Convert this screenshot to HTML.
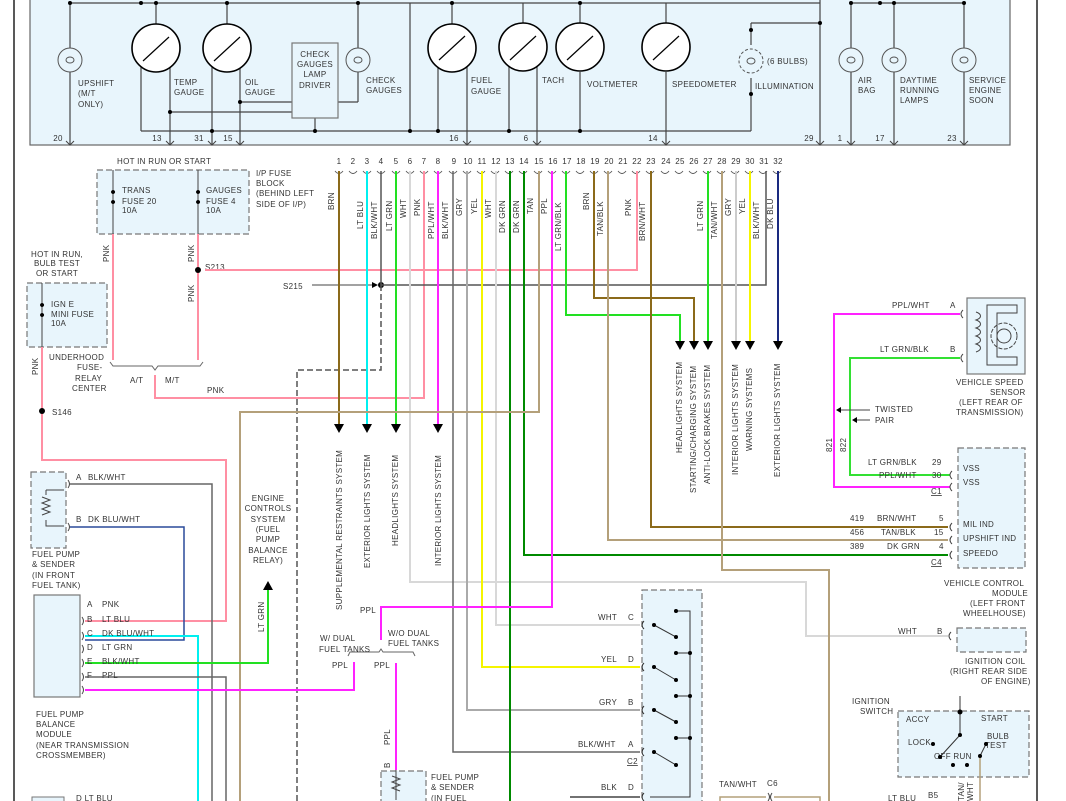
<!DOCTYPE html>
<html><head><meta charset="utf-8"><style>
html,body{margin:0;padding:0;background:#fff;}
svg{display:block;font-family:"Liberation Sans",sans-serif;}
text{font-size:8px;fill:#333;letter-spacing:0.3px}
</style></head><body>
<svg width="1066" height="801" viewBox="0 0 1066 801" xmlns="http://www.w3.org/2000/svg">
<defs>
<marker id="ar" viewBox="0 0 10 10" refX="5" refY="10" markerWidth="9" markerHeight="9" orient="auto-start-reverse"><path d="M0,0 L10,0 L5,10z" fill="#000"/></marker>
</defs>
<!-- border lines -->
<line x1="14" y1="0" x2="14" y2="801" stroke="#222" stroke-width="1.5"/>
<line x1="1037" y1="0" x2="1037" y2="801" stroke="#222" stroke-width="1.5"/>
<!-- top panel -->
<rect x="30" y="-2" width="980" height="147" fill="#e8f5fc" stroke="#666" stroke-width="1.2"/>
<g stroke="#444" stroke-width="1.2" fill="none">
<line x1="70" y1="3" x2="820" y2="3"/><line x1="850" y1="3" x2="964" y2="3"/>
<line x1="70" y1="3" x2="70" y2="48"/><line x1="70" y1="72" x2="70" y2="145"/>
<line x1="156" y1="3" x2="156" y2="24"/><line x1="227" y1="3" x2="227" y2="24"/>
<line x1="141" y1="62" x2="141" y2="131"/><line x1="170" y1="62" x2="170" y2="145"/>
<line x1="212" y1="62" x2="212" y2="145"/><line x1="240" y1="62" x2="240" y2="145"/>
<line x1="170" y1="112" x2="292" y2="112"/><line x1="240" y1="102" x2="292" y2="102"/>
<line x1="141" y1="131" x2="222" y2="131"/>
<line x1="222" y1="131" x2="751" y2="131"/>
<line x1="315" y1="118" x2="315" y2="131"/>
<line x1="358" y1="3" x2="358" y2="48"/><line x1="358" y1="72" x2="358" y2="102"/><line x1="338" y1="102" x2="358" y2="102"/>
<line x1="410" y1="3" x2="410" y2="131"/>
<line x1="452" y1="3" x2="452" y2="24"/><line x1="438" y1="62" x2="438" y2="131"/><line x1="467" y1="62" x2="467" y2="145"/>
<line x1="523" y1="3" x2="523" y2="24"/><line x1="509" y1="62" x2="509" y2="131"/><line x1="537" y1="62" x2="537" y2="145"/>
<line x1="580" y1="3" x2="580" y2="24"/><line x1="580" y1="72" x2="580" y2="131"/>
<line x1="666" y1="3" x2="666" y2="24"/><line x1="666" y1="72" x2="666" y2="145"/>
<line x1="751" y1="23" x2="820" y2="23"/><line x1="751" y1="23" x2="751" y2="45"/><line x1="751" y1="78" x2="751" y2="131"/>
<line x1="820" y1="0" x2="820" y2="145"/>
<line x1="851" y1="3" x2="851" y2="48"/><line x1="851" y1="72" x2="851" y2="145"/>
<line x1="894" y1="3" x2="894" y2="48"/><line x1="894" y1="72" x2="894" y2="145"/>
<line x1="964" y1="3" x2="964" y2="48"/><line x1="964" y1="72" x2="964" y2="145"/>
</g>
<g fill="#000">
<circle cx="70" cy="3" r="2"/><circle cx="141" cy="3" r="2"/><circle cx="156" cy="3" r="2"/><circle cx="227" cy="3" r="2"/><circle cx="358" cy="3" r="2"/><circle cx="452" cy="3" r="2"/><circle cx="580" cy="3" r="2"/>
<circle cx="170" cy="112" r="2"/><circle cx="240" cy="102" r="2"/><circle cx="212" cy="131" r="2"/><circle cx="315" cy="131" r="2"/><circle cx="410" cy="131" r="2"/><circle cx="438" cy="131" r="2"/><circle cx="509" cy="131" r="2"/><circle cx="580" cy="131" r="2"/>
<circle cx="820" cy="23" r="2"/><circle cx="751" cy="30" r="2"/><circle cx="751" cy="94" r="2"/><circle cx="851" cy="3" r="2"/><circle cx="880" cy="3" r="2"/><circle cx="894" cy="3" r="2"/><circle cx="964" cy="3" r="2"/>
</g>
<g fill="#fff" stroke="#000" stroke-width="1.6">
<circle cx="156" cy="48" r="24"/><circle cx="227" cy="48" r="24"/><circle cx="452" cy="48" r="24"/><circle cx="523" cy="47" r="24"/><circle cx="580" cy="47" r="24"/><circle cx="666" cy="47" r="24"/>
</g>
<g stroke="#000" stroke-width="1.2">
<line x1="143" y1="61" x2="169" y2="37"/><line x1="214" y1="61" x2="240" y2="37"/><line x1="439" y1="60" x2="465" y2="36"/><line x1="510" y1="60" x2="536" y2="36"/><line x1="567" y1="60" x2="593" y2="36"/><line x1="653" y1="60" x2="679" y2="36"/>
</g>
<g fill="none" stroke="#555" stroke-width="1">
<circle cx="70" cy="60" r="12"/><circle cx="358" cy="60" r="12"/><circle cx="751" cy="61" r="12" stroke-dasharray="3,2"/><circle cx="851" cy="60" r="12"/><circle cx="894" cy="60" r="12"/><circle cx="964" cy="60" r="12"/>
<ellipse cx="70" cy="60" rx="4" ry="3"/><ellipse cx="358" cy="60" rx="4" ry="3"/><ellipse cx="751" cy="61" rx="4" ry="3"/><ellipse cx="851" cy="60" rx="4" ry="3"/><ellipse cx="894" cy="60" rx="4" ry="3"/><ellipse cx="964" cy="60" rx="4" ry="3"/>
</g>
<rect x="292" y="43" width="46" height="75" fill="#e8f5fc" stroke="#777" stroke-width="1.2"/>
<text x="315" y="57" text-anchor="middle">CHECK</text><text x="315" y="67" text-anchor="middle">GAUGES</text><text x="315" y="77" text-anchor="middle">LAMP</text><text x="315" y="88" text-anchor="middle">DRIVER</text>
<text x="78" y="86">UPSHIFT</text><text x="78" y="96">(M/T</text><text x="78" y="107">ONLY)</text>
<text x="174" y="85">TEMP</text><text x="174" y="95">GAUGE</text><text x="245" y="85">OIL</text><text x="245" y="95">GAUGE</text>
<text x="366" y="83">CHECK</text><text x="366" y="93">GAUGES</text>
<text x="471" y="83">FUEL</text><text x="471" y="94">GAUGE</text>
<text x="542" y="83">TACH</text><text x="587" y="87">VOLTMETER</text><text x="672" y="87">SPEEDOMETER</text>
<text x="767" y="64">(6 BULBS)</text><text x="755" y="89">ILLUMINATION</text>
<text x="858" y="83">AIR</text><text x="858" y="93">BAG</text>
<text x="900" y="83">DAYTIME</text><text x="900" y="93">RUNNING</text><text x="900" y="103">LAMPS</text>
<text x="969" y="83">SERVICE</text><text x="969" y="93">ENGINE</text><text x="969" y="103">SOON</text>
<g text-anchor="middle"><text x="58" y="141">20</text><text x="157" y="141">13</text><text x="199" y="141">31</text><text x="228" y="141">15</text><text x="454" y="141">16</text><text x="526" y="141">6</text><text x="653" y="141">14</text><text x="809" y="141">29</text><text x="840" y="141">1</text><text x="880" y="141">17</text><text x="952" y="141">23</text></g>
<g stroke="#444" fill="none"><path d="M66,141 l4,4 l4,-4M166,141 l4,4 l4,-4M208,141 l4,4 l4,-4M236,141 l4,4 l4,-4M463,141 l4,4 l4,-4M533,141 l4,4 l4,-4M662,141 l4,4 l4,-4M816,141 l4,4 l4,-4M847,141 l4,4 l4,-4M890,141 l4,4 l4,-4M960,141 l4,4 l4,-4"/></g>

<!-- connector numbers -->
<g text-anchor="middle">
<text x="339" y="164">1</text><text x="353" y="164">2</text><text x="367" y="164">3</text><text x="381" y="164">4</text><text x="396" y="164">5</text><text x="410" y="164">6</text><text x="424" y="164">7</text><text x="438" y="164">8</text><text x="454" y="164">9</text><text x="468" y="164">10</text><text x="482" y="164">11</text><text x="496" y="164">12</text><text x="510" y="164">13</text><text x="524" y="164">14</text><text x="539" y="164">15</text><text x="553" y="164">16</text><text x="567" y="164">17</text><text x="581" y="164">18</text><text x="595" y="164">19</text><text x="609" y="164">20</text><text x="623" y="164">21</text><text x="637" y="164">22</text><text x="651" y="164">23</text><text x="666" y="164">24</text><text x="680" y="164">25</text><text x="694" y="164">26</text><text x="708" y="164">27</text><text x="722" y="164">28</text><text x="736" y="164">29</text><text x="750" y="164">30</text><text x="764" y="164">31</text><text x="778" y="164">32</text>
</g>
<g fill="none" stroke="#555" stroke-width="0.9">
<path d="M335,171 q4,5 8,0M349,171 q4,5 8,0M363,171 q4,5 8,0M377,171 q4,5 8,0M392,171 q4,5 8,0M406,171 q4,5 8,0M420,171 q4,5 8,0M434,171 q4,5 8,0M449,171 q4,5 8,0M463,171 q4,5 8,0M477,171 q4,5 8,0M491,171 q4,5 8,0M505,171 q4,5 8,0M519,171 q4,5 8,0M534,171 q4,5 8,0M548,171 q4,5 8,0M562,171 q4,5 8,0M576,171 q4,5 8,0M590,171 q4,5 8,0M604,171 q4,5 8,0M618,171 q4,5 8,0M632,171 q4,5 8,0M646,171 q4,5 8,0M661,171 q4,5 8,0M675,171 q4,5 8,0M689,171 q4,5 8,0M703,171 q4,5 8,0M717,171 q4,5 8,0M731,171 q4,5 8,0M745,171 q4,5 8,0M759,171 q4,5 8,0M773,171 q4,5 8,0"/>
</g>

<!-- dashed boxes -->
<g fill="#e8f5fc" stroke="#777" stroke-width="1.2" stroke-dasharray="6,3">
<rect x="97" y="170" width="152" height="64"/>
<rect x="27" y="283" width="80" height="64"/>
<rect x="31" y="472" width="35" height="76"/>
<rect x="958" y="448" width="67" height="120"/>
<rect x="957" y="628" width="69" height="24"/>
<rect x="898" y="711" width="131" height="66"/>
<rect x="642" y="590" width="60" height="215"/>
<rect x="381" y="771" width="45" height="35"/>
</g>
<rect x="34" y="595" width="46" height="102" fill="#e8f5fc" stroke="#777" stroke-width="1.2"/>
<rect x="32" y="797" width="32" height="10" fill="#e8f5fc" stroke="#777"/>
<rect x="967" y="298" width="58" height="76" fill="#e8f5fc" stroke="#777" stroke-width="1.2"/>
<path d="M1017,305 h-30 v60 h30 v-8 h-20 v-44 h20z" fill="none" stroke="#444"/>
<circle cx="1004" cy="336" r="13" fill="none" stroke="#444" stroke-dasharray="4,1.5"/><circle cx="1004" cy="336" r="7" fill="none" stroke="#444"/>
<path d="M976,312 c6,2 6,6 0,8 c6,2 6,6 0,8 c6,2 6,6 0,8 c6,2 6,6 0,8 c6,2 6,6 0,8" fill="none" stroke="#444"/>

<!-- fuse block texts -->
<text x="117" y="164">HOT IN RUN OR START</text>
<text x="256" y="176">I/P FUSE</text><text x="256" y="186">BLOCK</text><text x="256" y="196">(BEHIND LEFT</text><text x="256" y="207">SIDE OF I/P)</text>
<text x="122" y="193">TRANS</text><text x="122" y="204">FUSE 20</text><text x="122" y="213">10A</text>
<text x="206" y="193">GAUGES</text><text x="206" y="204">FUSE 4</text><text x="206" y="213">10A</text>
<text x="31" y="257">HOT IN RUN,</text><text x="34" y="266">BULB TEST</text><text x="36" y="276">OR START</text>
<text x="51" y="307">IGN E</text><text x="51" y="317">MINI FUSE</text><text x="51" y="326">10A</text>
<text x="49" y="360">UNDERHOOD</text><text x="77" y="370">FUSE-</text><text x="75" y="381">RELAY</text><text x="72" y="391">CENTER</text>
<text x="130" y="383">A/T</text><text x="165" y="383">M/T</text><text x="207" y="393">PNK</text>
<text x="205" y="270">S213</text><text x="283" y="289">S215</text><text x="52" y="415">S146</text>

<!-- fuse wires -->
<g fill="none" stroke-width="2">
<line x1="113" y1="170" x2="113" y2="234" stroke="#444" stroke-width="1"/>
<line x1="198" y1="170" x2="198" y2="234" stroke="#444" stroke-width="1"/>
<line x1="42" y1="283" x2="42" y2="347" stroke="#444" stroke-width="1"/>
<path d="M113,234 V360" stroke="#ff8fa3"/>
<path d="M198,234 V360" stroke="#ff8fa3" stroke-dasharray="30,0"/>
<path d="M42,347 V460 H226 V621 H85" stroke="#ff8fa3"/>
<path d="M205,270 H637 V171" stroke="#ff8fa3"/>
<path d="M155,375 V398 H424 V171" stroke="#ff8fa3"/>
</g>
<path d="M110,362 l3,4 h39 l3,4 l3,-4 h42 l3,-4" fill="none" stroke="#666"/>
<g fill="#000"><circle cx="198" cy="270" r="3"/><circle cx="42" cy="411" r="3"/><circle cx="381" cy="285" r="3"/>
<path d="M113,190 a2,2 0 1,0 0.1,0z M113,200 a2,2 0 1,0 .1,0z M198,190 a2,2 0 1,0 .1,0z M198,200 a2,2 0 1,0 .1,0z M42,303 a2,2 0 1,0 .1,0z M42,313 a2,2 0 1,0 .1,0z"/></g>
<g font-size="8" transform=""></g>
<text transform="translate(109,262) rotate(-90)">PNK</text>
<text transform="translate(194,262) rotate(-90)">PNK</text>
<text transform="translate(194,302) rotate(-90)">PNK</text>
<text transform="translate(38,375) rotate(-90)">PNK</text>

<!-- S215 -->
<line x1="312" y1="285" x2="376" y2="285" stroke="#444"/><path d="M372,282 l6,3 l-6,3z" fill="#000"/>
<path d="M381,285 H766 V171" fill="none" stroke="#555" stroke-width="1.5"/>
<path d="M381,285 V370 H297 V801" fill="none" stroke="#555" stroke-width="1.5" stroke-dasharray="6,3"/>

<!-- main wires -->
<g fill="none" stroke-width="2">
<path d="M339,171 V426" stroke="#8b6a1a"/>
<path d="M367,171 V426" stroke="#00f0f0"/>
<path d="M381,171 V285" stroke="#555" stroke-width="1.5"/>
<path d="M396,171 V426" stroke="#22e022"/>
<path d="M410,171 V582 H806 V636 H948" stroke="#d8d8d8"/>
<path d="M438,171 V426" stroke="#ff22ff"/>
<path d="M453,171 V752 H640" stroke="#666" stroke-width="1.5"/>
<path d="M467,171 V710 H640" stroke="#aaa"/>
<path d="M482,171 V667 H640" stroke="#f5f500"/>
<path d="M496,171 V625 H640" stroke="#d8d8d8"/>
<path d="M510,171 V801" stroke="#008a00"/>
<path d="M524,171 V555 H948" stroke="#008a00"/>
<path d="M539,171 V412 H240 V801" stroke="#b4a07a"/>
<path d="M552,171 V607 H381 V640" stroke="#ff22ff"/>
<path d="M566,171 V315 H680 V342" stroke="#22e022"/>
<path d="M594,171 V298 H694 V342" stroke="#8b6a1a"/>
<path d="M608,171 V540 H948" stroke="#b4a07a"/>
<path d="M651,171 V527 H948" stroke="#8b6a1a"/>
<path d="M708,171 V342" stroke="#22e022"/>
<path d="M722,171 V570 H829 V801" stroke="#b4a07a"/>
<path d="M736,171 V342" stroke="#ccc"/>
<path d="M750,171 V342" stroke="#f5f500"/>
<path d="M778,171 V342" stroke="#1a2a80"/>
</g>
<g fill="#000">
<path d="M334,424 h10 l-5,9z M362,424 h10 l-5,9z M391,424 h10 l-5,9z M433,424 h10 l-5,9z"/>
<path d="M675,341 h10 l-5,9z M689,341 h10 l-5,9z M703,341 h10 l-5,9z M731,341 h10 l-5,9z M745,341 h10 l-5,9z M773,341 h10 l-5,9z"/>
</g>
<!-- wire color labels vertical -->
<g>
<text transform="translate(334,210) rotate(-90)">BRN</text>
<text transform="translate(363,229) rotate(-90)">LT BLU</text>
<text transform="translate(377,239) rotate(-90)">BLK/WHT</text>
<text transform="translate(392,231) rotate(-90)">LT GRN</text>
<text transform="translate(406,218) rotate(-90)">WHT</text>
<text transform="translate(420,216) rotate(-90)">PNK</text>
<text transform="translate(434,239) rotate(-90)">PPL/WHT</text>
<text transform="translate(448,239) rotate(-90)">BLK/WHT</text>
<text transform="translate(462,216) rotate(-90)">GRY</text>
<text transform="translate(477,214) rotate(-90)">YEL</text>
<text transform="translate(491,218) rotate(-90)">WHT</text>
<text transform="translate(505,233) rotate(-90)">DK GRN</text>
<text transform="translate(519,233) rotate(-90)">DK GRN</text>
<text transform="translate(533,214) rotate(-90)">TAN</text>
<text transform="translate(547,214) rotate(-90)">PPL</text>
<text transform="translate(561,251) rotate(-90)">LT GRN/BLK</text>
<text transform="translate(589,210) rotate(-90)">BRN</text>
<text transform="translate(603,236) rotate(-90)">TAN/BLK</text>
<text transform="translate(631,216) rotate(-90)">PNK</text>
<text transform="translate(645,241) rotate(-90)">BRN/WHT</text>
<text transform="translate(703,231) rotate(-90)">LT GRN</text>
<text transform="translate(717,239) rotate(-90)">TAN/WHT</text>
<text transform="translate(731,216) rotate(-90)">GRY</text>
<text transform="translate(745,214) rotate(-90)">YEL</text>
<text transform="translate(759,239) rotate(-90)">BLK/WHT</text>
<text transform="translate(773,229) rotate(-90)">DK BLU</text>
</g>
<g>
<text transform="translate(342,610) rotate(-90)">SUPPLEMENTAL RESTRAINTS SYSTEM</text>
<text transform="translate(370,568) rotate(-90)">EXTERIOR LIGHTS SYSTEM</text>
<text transform="translate(398,546) rotate(-90)">HEADLIGHTS SYSTEM</text>
<text transform="translate(441,566) rotate(-90)">INTERIOR LIGHTS SYSTEM</text>
<text transform="translate(682,453) rotate(-90)">HEADLIGHTS SYSTEM</text>
<text transform="translate(696,493) rotate(-90)">STARTING/CHARGING SYSTEM</text>
<text transform="translate(710,484) rotate(-90)">ANTI-LOCK BRAKES SYSTEM</text>
<text transform="translate(738,475) rotate(-90)">INTERIOR LIGHTS SYSTEM</text>
<text transform="translate(752,451) rotate(-90)">WARNING SYSTEMS</text>
<text transform="translate(780,477) rotate(-90)">EXTERIOR LIGHTS SYSTEM</text>
</g>

<!-- VSS & VCM -->
<g fill="none" stroke-width="2">
<path d="M960,314 H834 V487 H950" stroke="#ff22ff"/>
<path d="M960,358 H850 V475 H950" stroke="#33e033"/>
</g>
<g fill="none" stroke="#444"><path d="M963,310 q-4,4 0,8 M963,354 q-4,4 0,8 M952,471 q-4,4 0,8 M952,483 q-4,4 0,8 M952,523 q-4,4 0,8 M952,536 q-4,4 0,8 M952,551 q-4,4 0,8 M951,632 q-4,4 0,8"/>
<line x1="840" y1="410" x2="870" y2="410"/><line x1="855" y1="420" x2="870" y2="420"/></g>
<path d="M836,410 l5,-3 v6z M852,420 l5,-3 v6z" fill="#000"/>
<text x="892" y="308">PPL/WHT</text><text x="950" y="308">A</text>
<text x="880" y="352">LT GRN/BLK</text><text x="950" y="352">B</text>
<text x="956" y="385">VEHICLE SPEED</text><text x="990" y="395">SENSOR</text><text x="959" y="405">(LEFT REAR OF</text><text x="956" y="415">TRANSMISSION)</text>
<text x="875" y="412">TWISTED</text><text x="875" y="423">PAIR</text>
<text transform="translate(832,452) rotate(-90)">821</text><text transform="translate(846,452) rotate(-90)">822</text>
<text x="868" y="465">LT GRN/BLK</text><text x="932" y="465">29</text>
<text x="879" y="478">PPL/WHT</text><text x="932" y="478">30</text>
<text x="931" y="494" text-decoration="underline">C1</text>
<text x="963" y="471">VSS</text><text x="963" y="485">VSS</text>
<text x="850" y="521">419</text><text x="877" y="521">BRN/WHT</text><text x="939" y="521">5</text>
<text x="850" y="535">456</text><text x="881" y="535">TAN/BLK</text><text x="934" y="535">15</text>
<text x="850" y="549">389</text><text x="887" y="549">DK GRN</text><text x="939" y="549">4</text>
<text x="931" y="565" text-decoration="underline">C4</text>
<text x="963" y="527">MIL IND</text><text x="963" y="541">UPSHIFT IND</text><text x="963" y="556">SPEEDO</text>
<text x="944" y="586">VEHICLE CONTROL</text><text x="992" y="596">MODULE</text><text x="970" y="606">(LEFT FRONT</text><text x="963" y="616">WHEELHOUSE)</text>
<text x="898" y="634">WHT</text><text x="937" y="634">B</text>
<text x="965" y="664">IGNITION COIL</text><text x="950" y="674">(RIGHT REAR SIDE</text><text x="981" y="684">OF ENGINE)</text>
<text x="852" y="704">IGNITION</text><text x="860" y="714">SWITCH</text>
<text x="906" y="722" font-size="9">ACCY</text><text x="981" y="721" font-size="9">START</text>
<text x="908" y="745" font-size="9">LOCK</text><text x="987" y="739" font-size="9">BULB</text><text x="985" y="748" font-size="9">TEST</text>
<text x="934" y="759" font-size="9">OFF RUN</text>
<g stroke="#333" fill="none"><line x1="960" y1="696" x2="960" y2="735"/><line x1="940" y1="757" x2="960" y2="735"/><line x1="980" y1="756" x2="986" y2="744"/><line x1="980" y1="756" x2="980" y2="801" stroke="#b4a07a" stroke-width="1.5"/></g>
<g fill="#000"><circle cx="960" cy="712" r="2.5"/><circle cx="960" cy="735" r="2"/><circle cx="933" cy="744" r="2"/><circle cx="940" cy="757" r="2"/><circle cx="953" cy="765" r="2"/><circle cx="967" cy="765" r="2"/><circle cx="986" cy="744" r="2"/><circle cx="980" cy="756" r="2"/></g>
<text transform="translate(964,801) rotate(-90)">TAN/</text><text transform="translate(973,801) rotate(-90)">WHT</text>
<text x="888" y="801">LT BLU</text><text x="928" y="798">B5</text>

<!-- C2 switch -->
<g stroke="#333" fill="none"><path d="M676,611 H690 V797 H650"/><line x1="676" y1="653" x2="690" y2="653"/><line x1="676" y1="696" x2="690" y2="696"/><line x1="676" y1="738" x2="690" y2="738"/>
<line x1="654" y1="625" x2="676" y2="637"/><line x1="654" y1="667" x2="676" y2="680"/><line x1="654" y1="710" x2="676" y2="722"/><line x1="654" y1="752" x2="676" y2="765"/>
<path d="M644,621 q-4,4 0,8 M644,663 q-4,4 0,8 M644,706 q-4,4 0,8 M644,748 q-4,4 0,8 M644,793 q-4,4 0,8"/></g>
<g fill="#000"><circle cx="676" cy="611" r="2"/><circle cx="654" cy="625" r="2"/><circle cx="676" cy="637" r="2"/><circle cx="676" cy="653" r="2"/><circle cx="690" cy="653" r="2"/><circle cx="654" cy="667" r="2"/><circle cx="676" cy="680" r="2"/><circle cx="676" cy="696" r="2"/><circle cx="690" cy="696" r="2"/><circle cx="654" cy="710" r="2"/><circle cx="676" cy="722" r="2"/><circle cx="676" cy="738" r="2"/><circle cx="690" cy="738" r="2"/><circle cx="654" cy="752" r="2"/><circle cx="676" cy="765" r="2"/></g>
<text x="598" y="620">WHT</text><text x="628" y="620">C</text>
<text x="601" y="662">YEL</text><text x="628" y="662">D</text>
<text x="599" y="705">GRY</text><text x="628" y="705">B</text>
<text x="578" y="747">BLK/WHT</text><text x="628" y="747">A</text>
<text x="627" y="764" text-decoration="underline">C2</text>
<text x="601" y="790">BLK</text><text x="628" y="790">D</text>
<path d="M570,797 H640" stroke="#444" stroke-width="1.5"/>
<text x="719" y="787">TAN/WHT</text><text x="767" y="786">C6</text>
<path d="M720,801 V797 H766 M774,797 H820 V801" fill="none" stroke="#b4a07a" stroke-width="1.5"/>
<path d="M768,793 q3,4 0,8 M772,793 q-3,4 0,8" fill="none" stroke="#444"/>

<!-- left bottom -->
<g fill="none" stroke-width="2">
<path d="M70,484 H212 V801" stroke="#666" stroke-width="1.5"/>
<path d="M70,527 H184 V640 H85" stroke="#2a4a9a" stroke-width="1.5"/>
<path d="M85,636 H198 V801" stroke="#00f0f0"/>
<path d="M85,663 H268 V588" stroke="#22e022"/>
<path d="M85,677 H226 V801" stroke="#666" stroke-width="1.5"/>
<path d="M85,690 H354 V662" stroke="#ff22ff"/>
<path d="M396,663 V770" stroke="#ff22ff"/>
</g>
<path d="M263,590 l5,-9 l5,9z" fill="#000"/>
<path d="M348,656 l2,-4 h29 l2,-3 l2,3 h30 l2,4" fill="none" stroke="#666"/>
<g fill="none" stroke="#444"><path d="M68,480 q3,4 0,8 M68,523 q3,4 0,8 M82,617 q3,4 0,8 M82,632 q3,4 0,8 M82,645 q3,4 0,8 M82,659 q3,4 0,8 M82,673 q3,4 0,8 M82,686 q3,4 0,8"/>
<path d="M46,490 h18 M46,490 v5 M42,497 l8,3 l-8,3 l8,3 l-8,3 l8,3 l-8,3 M46,520 v6 h18 M46,526 h16"/></g>
<text x="76" y="480">A</text><text x="88" y="480">BLK/WHT</text>
<text x="76" y="522">B</text><text x="88" y="522">DK BLU/WHT</text>
<text x="32" y="557">FUEL PUMP</text><text x="32" y="567">&amp; SENDER</text><text x="32" y="578">(IN FRONT</text><text x="32" y="588">FUEL TANK)</text>
<text x="87" y="607">A</text><text x="102" y="607">PNK</text>
<text x="87" y="622">B</text><text x="102" y="622">LT BLU</text>
<text x="87" y="636">C</text><text x="102" y="636">DK BLU/WHT</text>
<text x="87" y="650">D</text><text x="102" y="650">LT GRN</text>
<text x="87" y="664">E</text><text x="102" y="664">BLK/WHT</text>
<text x="87" y="678">F</text><text x="102" y="678">PPL</text>
<text x="36" y="717">FUEL PUMP</text><text x="36" y="727">BALANCE</text><text x="36" y="737">MODULE</text><text x="36" y="748">(NEAR TRANSMISSION</text><text x="36" y="758">CROSSMEMBER)</text>
<text x="76" y="801">D  LT BLU</text>
<g text-anchor="middle"><text x="268" y="501">ENGINE</text><text x="268" y="511">CONTROLS</text><text x="268" y="522">SYSTEM</text><text x="268" y="532">(FUEL</text><text x="268" y="542">PUMP</text><text x="268" y="553">BALANCE</text><text x="268" y="563">RELAY)</text></g>
<text transform="translate(264,632) rotate(-90)">LT GRN</text>
<text x="360" y="613">PPL</text>
<text x="320" y="641">W/ DUAL</text><text x="319" y="652">FUEL TANKS</text>
<text x="388" y="636">W/O DUAL</text><text x="388" y="646">FUEL TANKS</text>
<text x="332" y="668">PPL</text><text x="374" y="668">PPL</text>
<text transform="translate(390,745) rotate(-90)">PPL</text>
<text transform="translate(390,768) rotate(-90)">B</text>
<text x="431" y="780">FUEL PUMP</text><text x="431" y="790">&amp; SENDER</text><text x="431" y="801">(IN FUEL</text>
<path d="M392,776 l8,3 l-8,3 l8,3 l-8,3 l8,3 M396,770 v30" fill="none" stroke="#444"/>
</svg>
</body></html>
